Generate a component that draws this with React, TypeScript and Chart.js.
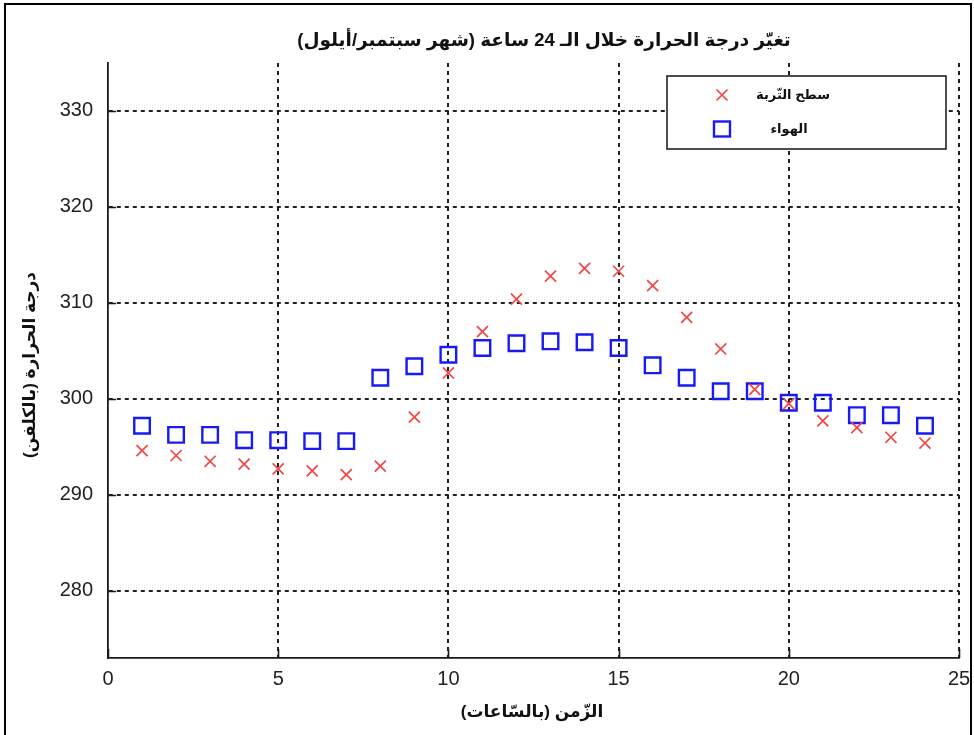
import React, { useEffect, useRef } from 'react';
import { Chart, registerables } from 'chart.js';

Chart.register(...registerables);

// Hour of day (1..24)
const hours = [1, 2, 3, 4, 5, 6, 7, 8, 9, 10, 11, 12, 13, 14, 15, 16, 17, 18, 19, 20, 21, 22, 23, 24];

// Soil surface temperature, Kelvin
const soilSurfaceK = [
  294.6, 294.1, 293.5, 293.2, 292.7, 292.5, 292.1, 293.0, 298.1, 302.7, 307.0, 310.4,
  312.8, 313.6, 313.3, 311.8, 308.5, 305.2, 301.0, 299.5, 297.7, 297.0, 296.0, 295.4,
];

// Air temperature, Kelvin
const airK = [
  297.2, 296.25, 296.25, 295.7, 295.7, 295.6, 295.6, 302.2, 303.4, 304.6, 305.3, 305.8,
  306.0, 305.9, 305.3, 303.5, 302.2, 300.8, 300.8, 299.6, 299.6, 298.3, 298.3, 297.2,
];

const xTickValues = [0, 5, 10, 15, 20, 25];
const yTickValues = [280, 290, 300, 310, 320, 330];

const TITLE = 'تغيّر درجة الحرارة خلال الـ 24 ساعة (شهر سبتمبر/أيلول)';
const X_TITLE = 'الزّمن (بالسّاعات)';
const Y_TITLE = 'درجة الحرارة (بالكلفن)';
const SOIL_LABEL = 'سطح التّربة';
const AIR_LABEL = 'الهواء';

const SOIL_COLOR = 'rgb(240, 70, 70)';
const AIR_COLOR = 'rgb(25, 25, 245)';
const AXIS_COLOR = '#1a1a1a';
const GRID_COLOR = '#202020';
const FONT = '"Liberation Sans", Arial, "DejaVu Sans", sans-serif';

// Titles, inward tick marks, boxed legend and the outer frame
const decorations = {
  id: 'decorations',
  afterDatasetsDraw(chart: any) {
    const ctx: CanvasRenderingContext2D = chart.ctx;
    const { left, right, top, bottom } = chart.chartArea;
    const xScale = chart.scales.x;
    const yScale = chart.scales.y;

    ctx.save();
    // inward ticks on the bottom and left axes
    ctx.strokeStyle = AXIS_COLOR;
    ctx.lineWidth = 1.6;
    ctx.setLineDash([]);
    ctx.beginPath();
    xTickValues.forEach((v) => {
      const px = Math.round(xScale.getPixelForValue(v)) + 0.5;
      ctx.moveTo(px, bottom);
      ctx.lineTo(px, bottom - 9);
    });
    yTickValues.forEach((v) => {
      const py = Math.round(yScale.getPixelForValue(v)) + 0.5;
      ctx.moveTo(left, py);
      ctx.lineTo(left + 8, py);
    });
    ctx.stroke();

    // legend box
    const bx = right - 292;
    const by = top + 13;
    const bw = 279;
    const bh = 73;
    ctx.fillStyle = '#ffffff';
    ctx.fillRect(bx, by, bw, bh);
    ctx.strokeStyle = '#222';
    ctx.lineWidth = 1.6;
    ctx.strokeRect(bx, by, bw, bh);

    const markerX = bx + 55;
    const row1 = by + 19;
    const row2 = by + 53;
    const ds = chart.data.datasets;

    // soil marker (x)
    ctx.strokeStyle = ds[0].borderColor;
    ctx.lineWidth = ds[0].pointBorderWidth;
    ctx.beginPath();
    ctx.moveTo(markerX - 5.5, row1 - 5.5);
    ctx.lineTo(markerX + 5.5, row1 + 5.5);
    ctx.moveTo(markerX + 5.5, row1 - 5.5);
    ctx.lineTo(markerX - 5.5, row1 + 5.5);
    ctx.stroke();

    // air marker (square)
    ctx.strokeStyle = ds[1].borderColor;
    ctx.lineWidth = ds[1].pointBorderWidth;
    ctx.strokeRect(markerX - 8, row2 - 7.5, 16, 15);

    ctx.fillStyle = '#111';
    ctx.direction = 'rtl';
    ctx.textAlign = 'center';
    ctx.textBaseline = 'middle';
    ctx.font = `bold 13px ${FONT}`;
    ctx.fillText(ds[0].label, bx + 126, row1);
    ctx.fillText(ds[1].label, bx + 122, row2);

    // chart title
    ctx.font = `bold 18.5px ${FONT}`;
    ctx.fillText(TITLE, 544, 41);

    // x axis title
    ctx.font = `bold 17px ${FONT}`;
    ctx.fillText(X_TITLE, 532, 712);

    // y axis title
    ctx.save();
    ctx.translate(30, 365);
    ctx.rotate(-Math.PI / 2);
    ctx.fillText(Y_TITLE, 0, 0);
    ctx.restore();

    // outer frame
    ctx.direction = 'ltr';
    ctx.strokeStyle = '#000';
    ctx.lineWidth = 2;
    ctx.beginPath();
    ctx.moveTo(5, 740);
    ctx.lineTo(5, 4);
    ctx.lineTo(971, 4);
    ctx.lineTo(971, 740);
    ctx.stroke();
    ctx.restore();
  },
};

export default function App() {
  const canvasRef = useRef<HTMLCanvasElement | null>(null);

  useEffect(() => {
    const canvas = canvasRef.current;
    if (!canvas) return;

    const chart = new Chart(canvas, {
      type: 'scatter',
      data: {
        datasets: [
          {
            label: SOIL_LABEL,
            data: hours.map((h, i) => ({ x: h, y: soilSurfaceK[i] })),
            pointStyle: 'crossRot',
            pointRadius: 7.8,
            pointBorderWidth: 1.7,
            borderColor: SOIL_COLOR,
            backgroundColor: SOIL_COLOR,
            showLine: false,
          },
          {
            label: AIR_LABEL,
            data: hours.map((h, i) => ({ x: h, y: airK[i] })),
            pointStyle: 'rect',
            pointRadius: 11,
            pointBorderWidth: 2.4,
            borderColor: AIR_COLOR,
            backgroundColor: 'rgba(0,0,0,0)',
            showLine: false,
          },
        ],
      },
      options: {
        responsive: false,
        animation: false,
        events: [],
        layout: { padding: { top: 63, right: 15, left: 0, bottom: 0 } },
        plugins: {
          legend: { display: false },
          title: { display: false },
          tooltip: { enabled: false },
        },
        scales: {
          x: {
            type: 'linear',
            min: 0,
            max: 25,
            afterBuildTicks: (scale: any) => {
              scale.ticks = xTickValues.map((v) => ({ value: v }));
            },
            afterFit: (scale: any) => {
              scale.height = 77;
              scale.paddingLeft = 0;
              scale.paddingRight = 0;
            },
            grid: {
              color: (c: any) => (c.tick && c.tick.value === 0 ? 'rgba(0,0,0,0)' : GRID_COLOR),
              lineWidth: 2,
              drawTicks: false,
            },
            border: { display: true, color: AXIS_COLOR, width: 1.8, dash: [4, 4] },
            ticks: {
              padding: 9,
              color: '#222',
              font: { family: FONT, size: 20 },
              maxRotation: 0,
            },
          },
          y: {
            type: 'linear',
            min: 273,
            max: 335,
            afterBuildTicks: (scale: any) => {
              scale.ticks = yTickValues.map((v) => ({ value: v }));
            },
            afterFit: (scale: any) => {
              scale.width = 108;
              scale.paddingTop = 0;
              scale.paddingBottom = 0;
            },
            grid: {
              color: GRID_COLOR,
              lineWidth: 2,
              drawTicks: false,
            },
            border: { display: true, color: AXIS_COLOR, width: 1.8, dash: [4, 4] },
            ticks: {
              padding: 15,
              color: '#222',
              font: { family: FONT, size: 20 },
            },
          },
        },
      },
      plugins: [decorations],
    } as any);

    return () => chart.destroy();
  }, []);

  return (
    <div style={{ position: 'absolute', left: 0, top: 0, width: 974, height: 735, background: '#fff' }}>
      <canvas ref={canvasRef} width={974} height={735} style={{ display: 'block' }} />
    </div>
  );
}
